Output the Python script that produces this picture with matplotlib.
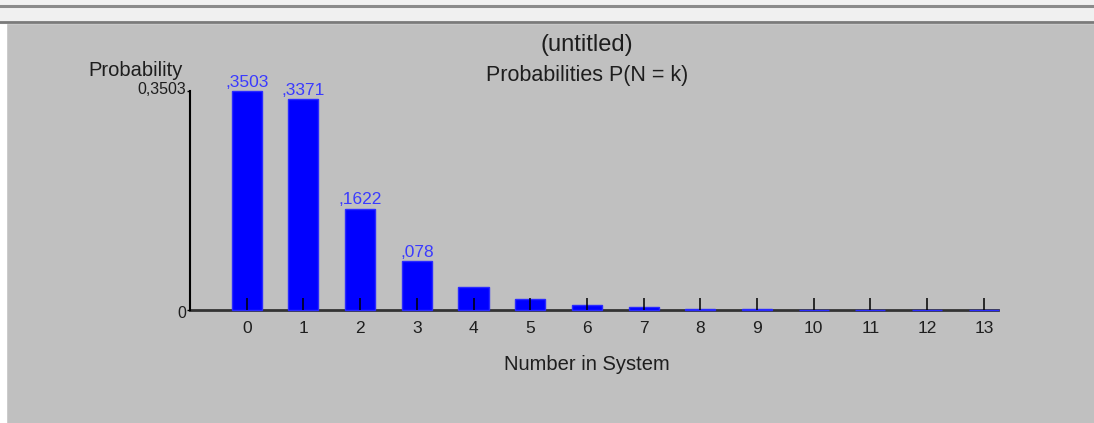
"""
Bar chart of queue state probabilities P(N = k), styled like the old
Windows report window (grey panel, blue bars, values above the first bars).
"""

import matplotlib
matplotlib.use("Agg")
import matplotlib.pyplot as plt
from matplotlib.transforms import ScaledTranslation

# ---------------------------------------------------------------------------
# data
# ---------------------------------------------------------------------------

states = list(range(14))
probs = [0.3503, 0.3371, 0.1622, 0.078, 0.0375, 0.018, 0.0087,
         0.0042, 0.002, 0.001, 0.0005, 0.0002, 0.0001, 0.00005]
value_labels = [",3503", ",3371", ",1622", ",078"]   # only first four are labelled
y_ticks = [0, 0.3503]
y_tick_labels = ["0", "0,3503"]

# ---------------------------------------------------------------------------
# style
# ---------------------------------------------------------------------------

FONT = ["Liberation Sans", "DejaVu Sans"]
PANEL = "#c0c0c0"
BAR = "#0000ff"
LABEL_BLUE = "#3a3aff"
INK = "#1e1e1e"
W, H = 1094, 423

plt.rcParams["font.family"] = FONT

fig = plt.figure(figsize=(W / 100, H / 100), dpi=100, facecolor=PANEL)

# window chrome: white left strip and light toolbar strip at the top
fig.patches.append(plt.Rectangle((0, 0), 6 / W, 1, transform=fig.transFigure,
                                 color="white", zorder=0))
fig.patches.append(plt.Rectangle((0, 1 - 23 / H), 1, 23 / H, transform=fig.transFigure,
                                 color="#f0f0f0", zorder=0))
fig.add_artist(plt.Line2D([0, 1], [1 - 6 / H, 1 - 6 / H], transform=fig.transFigure,
                          color="#8a8a8a", lw=2.2))
fig.add_artist(plt.Line2D([0, 1], [1 - 22.5 / H, 1 - 22.5 / H], transform=fig.transFigure,
                          color="#7a7a7a", lw=2.0))

ax = fig.add_axes([190 / W, 113 / H, 808 / W, 219 / H])
ax.set_facecolor(PANEL)
ax.set_xlim(-1.0, 13.25)
ax.set_ylim(0, 0.3503)

# baseline under the bars (tiny bars paint over it)
ax.axhline(0, color="#333333", lw=2.0, zorder=1, clip_on=False)
bars = ax.bar(states, probs, width=0.53, color=BAR, edgecolor="#2a2aff",
              linewidth=1.0, zorder=2, clip_on=False)

for rect, txt in zip(bars, value_labels):
    ax.annotate(txt, (rect.get_x() + rect.get_width() / 2, rect.get_height()),
                xytext=(0, 1.0), textcoords="offset points",
                ha="center", va="bottom", fontsize=12.5, color=LABEL_BLUE)

for side in ("top", "right", "bottom"):
    ax.spines[side].set_visible(False)
ax.spines["left"].set_color("black")
ax.spines["left"].set_linewidth(1.5)
ax.set_axisbelow(False)

ax.set_xticks(states)
ax.set_xticklabels([str(s) for s in states])
ax.tick_params(axis="x", direction="in", length=8.6, width=1.1, color="black",
               pad=8, labelsize=12.5, labelcolor=INK)
ax.set_yticks(y_ticks)
ax.set_yticklabels(y_tick_labels)
ax.tick_params(axis="y", direction="out", length=2, width=1.0, color="black",
               pad=0.5, labelsize=11.5, labelcolor=INK)
# nudge the top label up a bit and the zero label down, as in the source
shifts = [-2 / 100, 3 / 100]
for lab, dy in zip(ax.get_yticklabels(), shifts):
    lab.set_transform(lab.get_transform() + ScaledTranslation(0, dy, fig.dpi_scale_trans))

ax.set_xlabel("Number in System", fontsize=14.5, color=INK, va="center")
ax.xaxis.set_label_coords(0.491, -0.2466)
ax.set_ylabel("Probability", fontsize=14.5, color=INK, rotation=0, ha="right", va="center")
ax.yaxis.set_label_coords(-0.0087, 1.095)

ax.text(0.4913, 1.21, "(untitled)", transform=ax.transAxes, ha="center", va="center",
        fontsize=17, color=INK)
ax.text(0.4913, 1.072, "Probabilities P(N = k)", transform=ax.transAxes, ha="center",
        va="center", fontsize=15.5, color=INK)

fig.savefig("out.png", dpi=100, facecolor=PANEL)
